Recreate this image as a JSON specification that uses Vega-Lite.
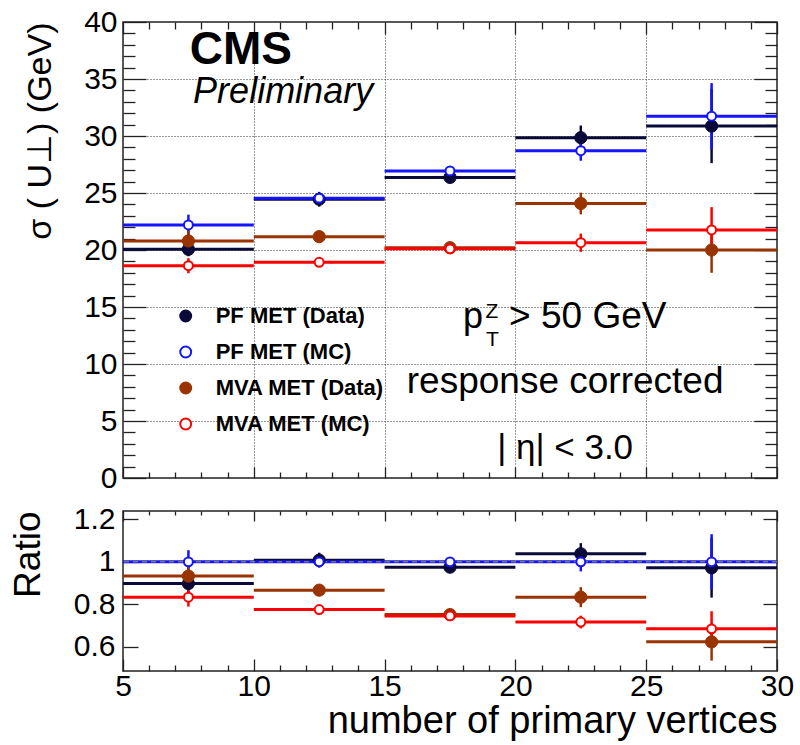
{
  "$schema": "https://vega.github.io/schema/vega-lite/v6.json",
  "padding": {"left": 8, "top": 6, "right": 0, "bottom": 0},
  "background": "white",
  "config": {
    "font": "Liberation Sans",
    "view": {"stroke": "#222", "strokeWidth": 1.5},
    "axis": {
      "domain": false,
      "grid": false,
      "tickColor": "#222",
      "tickWidth": 1.3,
      "labelFont": "Liberation Sans",
      "labelFontSize": 30,
      "labelColor": "#000",
      "labelOverlap": false,
      "labelFlush": false,
      "labelBound": false,
      "titleFont": "Liberation Sans",
      "titleFontWeight": "normal",
      "titleColor": "#000"
    }
  },
  "datasets": {
    "bins": [
      {"series": "PF MET (Data)", "nv": 7.5, "x0": 5, "x1": 10, "sigma": 20.06, "sigmaLo": 19.45, "sigmaHi": 20.65, "ratio": 0.898, "ratioLo": 0.858, "ratioHi": 0.938},
      {"series": "PF MET (MC)", "nv": 7.5, "x0": 5, "x1": 10, "sigma": 22.2, "sigmaLo": 21.3, "sigmaHi": 23.1, "ratio": 1.0, "ratioLo": 0.945, "ratioHi": 1.055},
      {"series": "MVA MET (Data)", "nv": 7.5, "x0": 5, "x1": 10, "sigma": 20.79, "sigmaLo": 19.9, "sigmaHi": 21.7, "ratio": 0.933, "ratioLo": 0.883, "ratioHi": 0.983},
      {"series": "MVA MET (MC)", "nv": 7.5, "x0": 5, "x1": 10, "sigma": 18.62, "sigmaLo": 17.96, "sigmaHi": 19.28, "ratio": 0.834, "ratioLo": 0.79, "ratioHi": 0.878},
      {"series": "PF MET (Data)", "nv": 12.5, "x0": 10, "x1": 15, "sigma": 24.45, "sigmaLo": 23.8, "sigmaHi": 25.1, "ratio": 1.008, "ratioLo": 0.973, "ratioHi": 1.043},
      {"series": "PF MET (MC)", "nv": 12.5, "x0": 10, "x1": 15, "sigma": 24.55, "sigmaLo": 24.25, "sigmaHi": 24.85, "ratio": 1.0, "ratioLo": 0.985, "ratioHi": 1.015},
      {"series": "MVA MET (Data)", "nv": 12.5, "x0": 10, "x1": 15, "sigma": 21.17, "sigmaLo": 20.87, "sigmaHi": 21.47, "ratio": 0.867, "ratioLo": 0.847, "ratioHi": 0.887},
      {"series": "MVA MET (MC)", "nv": 12.5, "x0": 10, "x1": 15, "sigma": 18.92, "sigmaLo": 18.67, "sigmaHi": 19.17, "ratio": 0.776, "ratioLo": 0.761, "ratioHi": 0.791},
      {"series": "PF MET (Data)", "nv": 17.5, "x0": 15, "x1": 20, "sigma": 26.37, "sigmaLo": 25.92, "sigmaHi": 26.82, "ratio": 0.975, "ratioLo": 0.955, "ratioHi": 0.995},
      {"series": "PF MET (MC)", "nv": 17.5, "x0": 15, "x1": 20, "sigma": 26.94, "sigmaLo": 26.64, "sigmaHi": 27.24, "ratio": 1.0, "ratioLo": 0.985, "ratioHi": 1.015},
      {"series": "MVA MET (Data)", "nv": 17.5, "x0": 15, "x1": 20, "sigma": 20.2, "sigmaLo": 19.9, "sigmaHi": 20.5, "ratio": 0.752, "ratioLo": 0.737, "ratioHi": 0.767},
      {"series": "MVA MET (MC)", "nv": 17.5, "x0": 15, "x1": 20, "sigma": 20.1, "sigmaLo": 19.85, "sigmaHi": 20.35, "ratio": 0.746, "ratioLo": 0.734, "ratioHi": 0.758},
      {"series": "PF MET (Data)", "nv": 22.5, "x0": 20, "x1": 25, "sigma": 29.85, "sigmaLo": 28.78, "sigmaHi": 30.92, "ratio": 1.038, "ratioLo": 0.988, "ratioHi": 1.088},
      {"series": "PF MET (MC)", "nv": 22.5, "x0": 20, "x1": 25, "sigma": 28.71, "sigmaLo": 27.83, "sigmaHi": 29.59, "ratio": 1.0, "ratioLo": 0.955, "ratioHi": 1.045},
      {"series": "MVA MET (Data)", "nv": 22.5, "x0": 20, "x1": 25, "sigma": 24.08, "sigmaLo": 23.13, "sigmaHi": 25.03, "ratio": 0.834, "ratioLo": 0.787, "ratioHi": 0.881},
      {"series": "MVA MET (MC)", "nv": 22.5, "x0": 20, "x1": 25, "sigma": 20.64, "sigmaLo": 19.84, "sigmaHi": 21.44, "ratio": 0.717, "ratioLo": 0.687, "ratioHi": 0.747},
      {"series": "PF MET (Data)", "nv": 27.5, "x0": 25, "x1": 30, "sigma": 30.87, "sigmaLo": 27.62, "sigmaHi": 34.12, "ratio": 0.972, "ratioLo": 0.832, "ratioHi": 1.112},
      {"series": "PF MET (MC)", "nv": 27.5, "x0": 25, "x1": 30, "sigma": 31.74, "sigmaLo": 28.84, "sigmaHi": 34.64, "ratio": 1.0, "ratioLo": 0.87, "ratioHi": 1.13},
      {"series": "MVA MET (Data)", "nv": 27.5, "x0": 25, "x1": 30, "sigma": 20.0, "sigmaLo": 18.0, "sigmaHi": 22.0, "ratio": 0.624, "ratioLo": 0.536, "ratioHi": 0.712},
      {"series": "MVA MET (MC)", "nv": 27.5, "x0": 25, "x1": 30, "sigma": 21.76, "sigmaLo": 19.76, "sigmaHi": 23.76, "ratio": 0.685, "ratioLo": 0.602, "ratioHi": 0.768}
    ]
  },
  "spacing": 33,
  "bounds": "flush",
  "resolve": {"legend": {"fill": "independent", "stroke": "independent"}},
  "vconcat": [
    {
      "width": 654,
      "height": 456,
      "resolve": {"scale": {"x": "independent", "y": "independent"}},
      "layer": [
        {
          "data": {"name": "bins"},
          "mark": {"type": "rule", "strokeWidth": 3},
          "encoding": {
            "x": {
              "field": "x0", "type": "quantitative",
              "scale": {"domain": [5, 30], "nice": false, "zero": false},
              "axis": {
                "orient": "bottom",
                "values": [5, 6, 7, 8, 9, 10, 11, 12, 13, 14, 15, 16, 17, 18, 19, 20, 21, 22, 23, 24, 25, 26, 27, 28, 29, 30],
                "labels": false,
                "title": null,
                "tickSize": -11,
                "tickDash": {"condition": {"test": "datum.value % 5 !== 0", "value": [6, 40]}, "value": [40, 1]},
                "grid": true,
                "gridDash": [1, 2],
                "gridColor": "#333",
                "gridWidth": 1,
                "gridOpacity": {"condition": {"test": "datum.value % 5 !== 0 || datum.value === 5 || datum.value === 30", "value": 0}, "value": 1}
              }
            },
            "x2": {"field": "x1"},
            "y": {
              "field": "sigma", "type": "quantitative",
              "scale": {"domain": [0, 40], "nice": false, "zero": false},
              "axis": {
                "orient": "left",
                "values": [0, 1, 2, 3, 4, 5, 6, 7, 8, 9, 10, 11, 12, 13, 14, 15, 16, 17, 18, 19, 20, 21, 22, 23, 24, 25, 26, 27, 28, 29, 30, 31, 32, 33, 34, 35, 36, 37, 38, 39, 40],
                "labelExpr": "datum.value % 5 === 0 ? datum.label : ''",
                "labelPadding": 29,
                "tickSize": -23,
                "tickDash": {"condition": {"test": "datum.value % 5 !== 0", "value": [12, 40]}, "value": [40, 1]},
                "grid": true,
                "gridDash": [1, 2],
                "gridColor": "#333",
                "gridWidth": 1,
                "gridOpacity": {"condition": {"test": "datum.value % 5 !== 0 || datum.value === 0 || datum.value === 40", "value": 0}, "value": 1},
                "title": "σ ( U⊥) (GeV)",
                "titleFontSize": 34,
                "titleAnchor": "end",
                "titleX": -66
              }
            },
            "stroke": {
              "field": "series", "type": "nominal",
              "scale": {"domain": ["PF MET (Data)", "PF MET (MC)", "MVA MET (Data)", "MVA MET (MC)"], "range": ["#0a0a3a", "#1414ff", "#993300", "#ff0000"]}
            }
          }
        },
        {
          "data": {"name": "bins"},
          "mark": {"type": "rule", "strokeWidth": 2.5},
          "encoding": {
            "x": {"field": "nv", "type": "quantitative", "scale": {"domain": [5, 30], "nice": false, "zero": false}, "axis": null},
            "y": {"field": "sigmaLo", "type": "quantitative", "scale": {"domain": [0, 40], "nice": false, "zero": false}, "axis": null},
            "y2": {"field": "sigmaHi"},
            "stroke": {
              "field": "series", "type": "nominal",
              "scale": {"domain": ["PF MET (Data)", "PF MET (MC)", "MVA MET (Data)", "MVA MET (MC)"], "range": ["#0a0a3a", "#1414ff", "#993300", "#ff0000"]}
            }
          }
        },
        {
          "data": {"name": "bins"},
          "transform": [{"filter": "test(/Data/, datum.series)"}],
          "mark": {"type": "point", "shape": "circle", "size": 150, "strokeWidth": 1, "opacity": 1},
          "encoding": {
            "x": {"field": "nv", "type": "quantitative", "scale": {"domain": [5, 30], "nice": false, "zero": false}, "axis": null},
            "y": {"field": "sigma", "type": "quantitative", "scale": {"domain": [0, 40], "nice": false, "zero": false}, "axis": null},
            "fill": {
              "field": "series", "type": "nominal",
              "scale": {"domain": ["PF MET (Data)", "PF MET (MC)", "MVA MET (Data)", "MVA MET (MC)"], "range": ["#0a0a3a", "#ffffff", "#993300", "#ffffff"]},
              "legend": {"orient": "none", "legendX": 51.7, "legendY": 283, "title": null, "padding": 0, "labelFont": "Liberation Sans", "labelFontSize": 22, "labelFontWeight": "bold", "labelColor": "#000", "labelOffset": 19, "labelLimit": 300, "symbolType": "circle", "symbolSize": 120, "symbolStrokeWidth": 2, "rowPadding": 14}
            },
            "stroke": {
              "field": "series", "type": "nominal",
              "scale": {"domain": ["PF MET (Data)", "PF MET (MC)", "MVA MET (Data)", "MVA MET (MC)"], "range": ["#0a0a3a", "#1414ff", "#993300", "#ff0000"]},
              "legend": {"orient": "none", "legendX": 51.7, "legendY": 283, "title": null, "padding": 0, "labelFont": "Liberation Sans", "labelFontSize": 22, "labelFontWeight": "bold", "labelColor": "#000", "labelOffset": 19, "labelLimit": 300, "symbolType": "circle", "symbolSize": 120, "symbolStrokeWidth": 2, "rowPadding": 14}
            }
          }
        },
        {
          "data": {"name": "bins"},
          "transform": [{"filter": "test(/MC/, datum.series)"}],
          "mark": {"type": "point", "shape": "circle", "size": 80, "strokeWidth": 2, "opacity": 1},
          "encoding": {
            "x": {"field": "nv", "type": "quantitative", "scale": {"domain": [5, 30], "nice": false, "zero": false}, "axis": null},
            "y": {"field": "sigma", "type": "quantitative", "scale": {"domain": [0, 40], "nice": false, "zero": false}, "axis": null},
            "fill": {
              "field": "series", "type": "nominal",
              "scale": {"domain": ["PF MET (Data)", "PF MET (MC)", "MVA MET (Data)", "MVA MET (MC)"], "range": ["#0a0a3a", "#ffffff", "#993300", "#ffffff"]}
            },
            "stroke": {
              "field": "series", "type": "nominal",
              "scale": {"domain": ["PF MET (Data)", "PF MET (MC)", "MVA MET (Data)", "MVA MET (MC)"], "range": ["#0a0a3a", "#1414ff", "#993300", "#ff0000"]}
            }
          }
        },
        {
          "data": {"values": [{}]},
          "mark": {"type": "text", "text": "CMS", "font": "Liberation Sans", "fontSize": 46, "fontWeight": "bold", "align": "left", "baseline": "alphabetic", "color": "#000"},
          "encoding": {
            "x": {"datum": 7.55, "type": "quantitative", "scale": {"domain": [5, 30], "nice": false, "zero": false}, "axis": null},
            "y": {"datum": 36.31, "type": "quantitative", "scale": {"domain": [0, 40], "nice": false, "zero": false}, "axis": null}
          }
        },
        {
          "data": {"values": [{}]},
          "mark": {"type": "text", "text": "Preliminary", "font": "Liberation Sans", "fontSize": 36, "fontStyle": "italic", "align": "left", "baseline": "alphabetic", "color": "#000"},
          "encoding": {
            "x": {"datum": 7.68, "type": "quantitative", "scale": {"domain": [5, 30], "nice": false, "zero": false}, "axis": null},
            "y": {"datum": 32.92, "type": "quantitative", "scale": {"domain": [0, 40], "nice": false, "zero": false}, "axis": null}
          }
        },
        {
          "data": {"values": [{}]},
          "mark": {"type": "text", "text": "p", "font": "Liberation Sans", "fontSize": 36, "align": "left", "baseline": "alphabetic", "color": "#000"},
          "encoding": {
            "x": {"datum": 18.0, "type": "quantitative", "scale": {"domain": [5, 30], "nice": false, "zero": false}, "axis": null},
            "y": {"datum": 13.17, "type": "quantitative", "scale": {"domain": [0, 40], "nice": false, "zero": false}, "axis": null}
          }
        },
        {
          "data": {"values": [{}]},
          "mark": {"type": "text", "text": "Z", "font": "Liberation Sans", "fontSize": 21, "align": "left", "baseline": "alphabetic", "color": "#000"},
          "encoding": {
            "x": {"datum": 18.86, "type": "quantitative", "scale": {"domain": [5, 30], "nice": false, "zero": false}, "axis": null},
            "y": {"datum": 14.05, "type": "quantitative", "scale": {"domain": [0, 40], "nice": false, "zero": false}, "axis": null}
          }
        },
        {
          "data": {"values": [{}]},
          "mark": {"type": "text", "text": "T", "font": "Liberation Sans", "fontSize": 21, "align": "left", "baseline": "alphabetic", "color": "#000"},
          "encoding": {
            "x": {"datum": 18.88, "type": "quantitative", "scale": {"domain": [5, 30], "nice": false, "zero": false}, "axis": null},
            "y": {"datum": 11.6, "type": "quantitative", "scale": {"domain": [0, 40], "nice": false, "zero": false}, "axis": null}
          }
        },
        {
          "data": {"values": [{}]},
          "mark": {"type": "text", "text": "> 50 GeV", "font": "Liberation Sans", "fontSize": 37, "align": "left", "baseline": "alphabetic", "color": "#000"},
          "encoding": {
            "x": {"datum": 19.76, "type": "quantitative", "scale": {"domain": [5, 30], "nice": false, "zero": false}, "axis": null},
            "y": {"datum": 13.17, "type": "quantitative", "scale": {"domain": [0, 40], "nice": false, "zero": false}, "axis": null}
          }
        },
        {
          "data": {"values": [{}]},
          "mark": {"type": "text", "text": "response corrected", "font": "Liberation Sans", "fontSize": 37, "align": "center", "baseline": "alphabetic", "color": "#000"},
          "encoding": {
            "x": {"datum": 21.9, "type": "quantitative", "scale": {"domain": [5, 30], "nice": false, "zero": false}, "axis": null},
            "y": {"datum": 7.48, "type": "quantitative", "scale": {"domain": [0, 40], "nice": false, "zero": false}, "axis": null}
          }
        },
        {
          "data": {"values": [{}]},
          "mark": {"type": "text", "text": "| η| < 3.0", "font": "Liberation Sans", "fontSize": 35, "align": "center", "baseline": "alphabetic", "color": "#000"},
          "encoding": {
            "x": {"datum": 21.9, "type": "quantitative", "scale": {"domain": [5, 30], "nice": false, "zero": false}, "axis": null},
            "y": {"datum": 1.67, "type": "quantitative", "scale": {"domain": [0, 40], "nice": false, "zero": false}, "axis": null}
          }
        },
        {
          "data": {"name": "bins"},
          "mark": {"type": "point", "opacity": 0},
          "encoding": {
            "x": {
              "field": "nv", "type": "quantitative",
              "scale": {"domain": [5, 30], "nice": false, "zero": false},
              "axis": {
                "orient": "top",
                "values": [5, 6, 7, 8, 9, 10, 11, 12, 13, 14, 15, 16, 17, 18, 19, 20, 21, 22, 23, 24, 25, 26, 27, 28, 29, 30],
                "labels": false,
                "title": null,
                "tickSize": -12,
                "tickDash": {"condition": {"test": "datum.value % 5 !== 0", "value": [7, 40]}, "value": [40, 1]}
              }
            },
            "y": {
              "field": "sigma", "type": "quantitative",
              "scale": {"domain": [0, 40], "nice": false, "zero": false},
              "axis": {
                "orient": "right",
                "values": [0, 1, 2, 3, 4, 5, 6, 7, 8, 9, 10, 11, 12, 13, 14, 15, 16, 17, 18, 19, 20, 21, 22, 23, 24, 25, 26, 27, 28, 29, 30, 31, 32, 33, 34, 35, 36, 37, 38, 39, 40],
                "labels": false,
                "title": null,
                "tickSize": -23,
                "tickDash": {"condition": {"test": "datum.value % 5 !== 0", "value": [12, 40]}, "value": [40, 1]}
              }
            }
          }
        }
      ]
    },
    {
      "width": 654,
      "height": 160,
      "resolve": {"scale": {"x": "independent", "y": "independent"}},
      "layer": [
        {
          "data": {"name": "bins"},
          "mark": {"type": "rule", "strokeWidth": 3},
          "encoding": {
            "x": {
              "field": "x0", "type": "quantitative",
              "scale": {"domain": [5, 30], "nice": false, "zero": false},
              "axis": {
                "orient": "bottom",
                "values": [5, 6, 7, 8, 9, 10, 11, 12, 13, 14, 15, 16, 17, 18, 19, 20, 21, 22, 23, 24, 25, 26, 27, 28, 29, 30],
                "labelExpr": "datum.value % 5 === 0 ? datum.label : ''",
                "labelPadding": 12,
                "tickSize": -12,
                "tickDash": {"condition": {"test": "datum.value % 5 !== 0", "value": [6, 40]}, "value": [40, 1]},
                "title": "number of primary vertices",
                "titleFontSize": 38,
                "titleAnchor": "end",
                "titleBaseline": "alphabetic",
                "titleY": 61
              }
            },
            "x2": {"field": "x1"},
            "y": {
              "field": "ratio", "type": "quantitative",
              "scale": {"domain": [0.487, 1.239], "nice": false, "zero": false},
              "axis": {
                "orient": "left",
                "values": [0.6, 0.8, 1, 1.2],
                "format": "~g",
                "labelPadding": 23,
                "tickSize": -15,
                "title": "Ratio",
                "titleFontSize": 37,
                "titleAnchor": "end",
                "titleX": -76
              }
            },
            "stroke": {
              "field": "series", "type": "nominal",
              "scale": {"domain": ["PF MET (Data)", "PF MET (MC)", "MVA MET (Data)", "MVA MET (MC)"], "range": ["#0a0a3a", "#1414ff", "#993300", "#ff0000"]},
              "legend": null
            }
          }
        },
        {
          "data": {"values": [{}]},
          "mark": {"type": "rule", "stroke": "#777", "strokeDash": [5, 4], "strokeWidth": 1.5},
          "encoding": {
            "y": {"datum": 1, "type": "quantitative", "scale": {"domain": [0.487, 1.239], "nice": false, "zero": false}, "axis": null}
          }
        },
        {
          "data": {"name": "bins"},
          "mark": {"type": "rule", "strokeWidth": 2.5},
          "encoding": {
            "x": {"field": "nv", "type": "quantitative", "scale": {"domain": [5, 30], "nice": false, "zero": false}, "axis": null},
            "y": {"field": "ratioLo", "type": "quantitative", "scale": {"domain": [0.487, 1.239], "nice": false, "zero": false}, "axis": null},
            "y2": {"field": "ratioHi"},
            "stroke": {
              "field": "series", "type": "nominal",
              "scale": {"domain": ["PF MET (Data)", "PF MET (MC)", "MVA MET (Data)", "MVA MET (MC)"], "range": ["#0a0a3a", "#1414ff", "#993300", "#ff0000"]},
              "legend": null
            }
          }
        },
        {
          "data": {"name": "bins"},
          "transform": [{"filter": "test(/Data/, datum.series)"}],
          "mark": {"type": "point", "shape": "circle", "size": 150, "strokeWidth": 1, "opacity": 1},
          "encoding": {
            "x": {"field": "nv", "type": "quantitative", "scale": {"domain": [5, 30], "nice": false, "zero": false}, "axis": null},
            "y": {"field": "ratio", "type": "quantitative", "scale": {"domain": [0.487, 1.239], "nice": false, "zero": false}, "axis": null},
            "fill": {
              "field": "series", "type": "nominal",
              "scale": {"domain": ["PF MET (Data)", "PF MET (MC)", "MVA MET (Data)", "MVA MET (MC)"], "range": ["#0a0a3a", "#ffffff", "#993300", "#ffffff"]},
              "legend": null
            },
            "stroke": {
              "field": "series", "type": "nominal",
              "scale": {"domain": ["PF MET (Data)", "PF MET (MC)", "MVA MET (Data)", "MVA MET (MC)"], "range": ["#0a0a3a", "#1414ff", "#993300", "#ff0000"]},
              "legend": null
            }
          }
        },
        {
          "data": {"name": "bins"},
          "transform": [{"filter": "test(/MC/, datum.series)"}],
          "mark": {"type": "point", "shape": "circle", "size": 80, "strokeWidth": 2, "opacity": 1},
          "encoding": {
            "x": {"field": "nv", "type": "quantitative", "scale": {"domain": [5, 30], "nice": false, "zero": false}, "axis": null},
            "y": {"field": "ratio", "type": "quantitative", "scale": {"domain": [0.487, 1.239], "nice": false, "zero": false}, "axis": null},
            "fill": {
              "field": "series", "type": "nominal",
              "scale": {"domain": ["PF MET (Data)", "PF MET (MC)", "MVA MET (Data)", "MVA MET (MC)"], "range": ["#0a0a3a", "#ffffff", "#993300", "#ffffff"]},
              "legend": null
            },
            "stroke": {
              "field": "series", "type": "nominal",
              "scale": {"domain": ["PF MET (Data)", "PF MET (MC)", "MVA MET (Data)", "MVA MET (MC)"], "range": ["#0a0a3a", "#1414ff", "#993300", "#ff0000"]},
              "legend": null
            }
          }
        },
        {
          "data": {"name": "bins"},
          "mark": {"type": "point", "opacity": 0},
          "encoding": {
            "x": {
              "field": "nv", "type": "quantitative",
              "scale": {"domain": [5, 30], "nice": false, "zero": false},
              "axis": {
                "orient": "top",
                "values": [5, 6, 7, 8, 9, 10, 11, 12, 13, 14, 15, 16, 17, 18, 19, 20, 21, 22, 23, 24, 25, 26, 27, 28, 29, 30],
                "labels": false,
                "title": null,
                "tickSize": -10,
                "tickDash": {"condition": {"test": "datum.value % 5 !== 0", "value": [4, 40]}, "value": [40, 1]}
              }
            },
            "y": {
              "field": "ratio", "type": "quantitative",
              "scale": {"domain": [0.487, 1.239], "nice": false, "zero": false},
              "axis": {
                "orient": "right",
                "values": [0.6, 0.8, 1, 1.2],
                "labels": false,
                "title": null,
                "tickSize": -14
              }
            }
          }
        }
      ]
    }
  ]
}
